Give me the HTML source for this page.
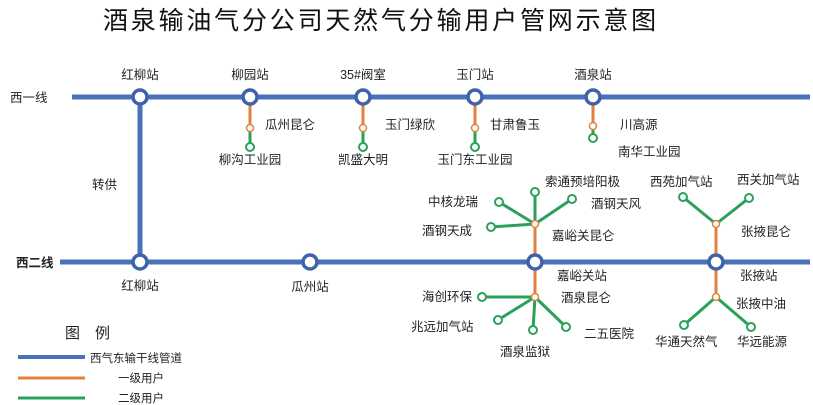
<!DOCTYPE html>
<html><head><meta charset="utf-8"><style>
body{margin:0;background:#fff}
svg{display:block}
text{font-family:"Liberation Sans","Noto Sans CJK SC",sans-serif;font-size:12.5px;fill:#222}
</style></head><body>
<svg width="813" height="405" viewBox="0 0 813 405">
<text x="381" y="29" text-anchor="middle" style="font-size:25px;letter-spacing:2.8px;fill:#111">酒泉输油气分公司天然气分输用户管网示意图</text>
<g stroke="#4a72b8" stroke-width="5" fill="none">
<line x1="72" y1="97" x2="810" y2="97"/>
<line x1="140" y1="97" x2="140" y2="262"/>
<line x1="60" y1="262" x2="810" y2="262"/>
</g>
<g stroke="#e0823e" stroke-width="3">
<line x1="250" y1="97" x2="250" y2="128"/>
<line x1="363" y1="97" x2="363" y2="128"/>
<line x1="475" y1="97" x2="475" y2="128"/>
<line x1="593" y1="97" x2="593" y2="126"/>
<line x1="535" y1="224" x2="535" y2="297"/>
<line x1="716" y1="224" x2="716" y2="297"/>
</g>
<g stroke="#2aa05a" stroke-width="3" fill="none">
<line x1="250" y1="128" x2="250" y2="147"/>
<line x1="363" y1="128" x2="363" y2="147"/>
<line x1="475" y1="128" x2="475" y2="147"/>
<line x1="593" y1="126" x2="593" y2="138"/>
<line x1="535" y1="224" x2="535" y2="192"/>
<line x1="535" y1="224" x2="572" y2="199"/>
<line x1="535" y1="224" x2="499" y2="202"/>
<line x1="535" y1="224" x2="491" y2="227"/>
<line x1="535" y1="297" x2="482" y2="297"/>
<line x1="535" y1="297" x2="498" y2="320"/>
<line x1="535" y1="297" x2="533" y2="330"/>
<line x1="535" y1="297" x2="566" y2="327"/>
<line x1="716" y1="224" x2="683" y2="197"/>
<line x1="716" y1="224" x2="749" y2="198"/>
<line x1="716" y1="297" x2="684" y2="325"/>
<line x1="716" y1="297" x2="751" y2="327"/>
</g>
<g fill="#fff" stroke="#2aa05a" stroke-width="2">
<circle cx="250" cy="147" r="4"/><circle cx="363" cy="147" r="4"/><circle cx="475" cy="147" r="4"/><circle cx="593" cy="138" r="4"/>
<circle cx="535" cy="192" r="4"/><circle cx="572" cy="199" r="4"/><circle cx="499" cy="202" r="4"/><circle cx="491" cy="227" r="4"/>
<circle cx="482" cy="297" r="4"/><circle cx="498" cy="320" r="4"/><circle cx="533" cy="330" r="4"/><circle cx="566" cy="327" r="4"/>
<circle cx="683" cy="197" r="4"/><circle cx="749" cy="198" r="4"/><circle cx="684" cy="325" r="4"/><circle cx="751" cy="327" r="4"/>
</g>
<g fill="#fff" stroke="#e0823e" stroke-width="1.5">
<circle cx="250" cy="128" r="3.5"/><circle cx="363" cy="128" r="3.5"/><circle cx="475" cy="128" r="3.5"/><circle cx="593" cy="126" r="3.5"/>
<circle cx="535" cy="224" r="3.5"/><circle cx="535" cy="297" r="3.5"/><circle cx="716" cy="224" r="3.5"/><circle cx="716" cy="297" r="3.5"/>
</g>
<g fill="#fff" stroke="#3f63a8" stroke-width="3.5">
<circle cx="140" cy="97" r="7"/><circle cx="250" cy="97" r="7"/><circle cx="363" cy="97" r="7"/><circle cx="475" cy="97" r="7"/><circle cx="593" cy="97" r="7"/>
<circle cx="140" cy="262" r="7"/><circle cx="310" cy="262" r="7"/><circle cx="535" cy="262" r="7"/><circle cx="716" cy="262" r="7"/>
</g>
<g text-anchor="middle">
<text x="140" y="79">红柳站</text><text x="250" y="79">柳园站</text><text x="363" y="79">35#阀室</text><text x="475" y="79">玉门站</text><text x="593" y="79">酒泉站</text>
<text x="250" y="164">柳沟工业园</text><text x="363" y="164">凯盛大明</text><text x="475" y="164">玉门东工业园</text>
<text x="140" y="290">红柳站</text><text x="310" y="291">瓜州站</text>
<text x="525" y="356">酒泉监狱</text>
</g>
<text x="10" y="102">西一线</text>
<text x="16" y="267" style="font-weight:bold">西二线</text>
<text x="92" y="189">转供</text>
<text x="265" y="129">瓜州昆仑</text><text x="385" y="129">玉门绿欣</text><text x="490" y="129">甘肃鲁玉</text><text x="620" y="129">川高源</text>
<text x="618" y="156">南华工业园</text>
<text x="545" y="186">索通预培阳极</text><text x="591" y="208">酒钢天风</text><text x="428" y="206">中核龙瑞</text><text x="422" y="235">酒钢天成</text>
<text x="552" y="240">嘉峪关昆仑</text><text x="557" y="280">嘉峪关站</text><text x="561" y="302">酒泉昆仑</text>
<text x="422" y="301">海创环保</text><text x="411" y="331">兆远加气站</text><text x="584" y="338">二五医院</text>
<text x="650" y="186">西苑加气站</text><text x="737" y="184">西关加气站</text><text x="741" y="236">张掖昆仑</text>
<text x="740" y="280">张掖站</text><text x="736" y="308">张掖中油</text><text x="655" y="346">华通天然气</text><text x="737" y="346">华远能源</text>
<text x="65" y="338" style="font-size:15px">图　例</text>
<line x1="18" y1="357" x2="85" y2="357" stroke="#4a72b8" stroke-width="4"/>
<line x1="18" y1="378" x2="85" y2="378" stroke="#e0823e" stroke-width="3"/>
<line x1="18" y1="398" x2="85" y2="398" stroke="#2aa05a" stroke-width="3"/>
<text x="90" y="362" style="font-size:11.5px">西气东输干线管道</text>
<text x="118" y="382" style="font-size:11.5px">一级用户</text>
<text x="118" y="402" style="font-size:11.5px">二级用户</text>
</svg>
</body></html>
